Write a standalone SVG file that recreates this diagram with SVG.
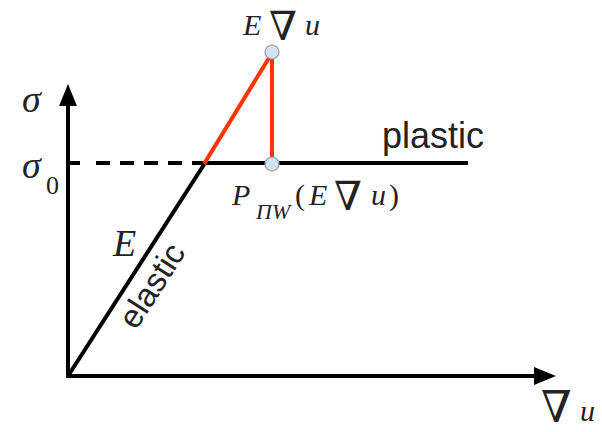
<svg xmlns="http://www.w3.org/2000/svg" width="602" height="432" viewBox="0 0 602 432">
<style>
.ax{stroke:#000;stroke-width:4;fill:none}
.red{stroke:#ff3300;stroke-width:4;fill:none}
.pt{fill:#cfe3f2;stroke:#999;stroke-width:1.2}
.m{font-family:"Liberation Serif",serif;fill:#222}
.n{font-family:"DejaVu Serif",serif;fill:#222}
.mi{font-family:"Liberation Serif",serif;font-style:italic;fill:#222}
.s{font-family:"Liberation Sans",Arial,sans-serif;fill:#222}
</style>
<g id="connectors">
<line class="ax" x1="68" y1="378" x2="68" y2="104"/>
<polygon points="68,84 59,106 77,106" fill="#000"/>
<line class="ax" x1="66" y1="376" x2="536" y2="376"/>
<polygon points="556,376 534,367 534,385" fill="#000"/>
<line class="ax" x1="68" y1="163" x2="80" y2="163"/>
<line class="ax" x1="96" y1="163" x2="205" y2="163" stroke-dasharray="14,10"/>
<line class="ax" x1="203" y1="163" x2="468" y2="163"/>
<line class="ax" x1="68" y1="376" x2="205" y2="163"/>
<line class="red" x1="204" y1="164" x2="272" y2="53"/>
<line class="red" x1="272" y1="53" x2="272" y2="163"/>
</g>
<g id="node-top"><circle class="pt" cx="272" cy="52" r="7"/></g>
<g id="node-proj"><circle class="pt" cx="272" cy="164" r="7"/></g>
<g id="labels">
<text class="mi" x="22" y="112" font-size="38">σ</text>
<text class="mi" x="22" y="178" font-size="38">σ</text>
<text class="m" x="46" y="194" font-size="26">0</text>
<text class="mi" x="243" y="35" font-size="30">E</text>
<text class="n" x="269" y="40" font-size="40">∇</text>
<text class="mi" x="305" y="35" font-size="30">u</text>
<text class="mi" x="232" y="205" font-size="30">P</text>
<text class="mi" x="256" y="219" font-size="22">ΠW</text>
<text class="m" x="295" y="205" font-size="30">(</text>
<text class="mi" x="309" y="205" font-size="30">E</text>
<text class="n" x="334" y="210" font-size="40">∇</text>
<text class="mi" x="371" y="205" font-size="30">u</text>
<text class="m" x="389" y="205" font-size="30">)</text>
<text class="mi" x="113" y="256" font-size="38">E</text>
<text class="s" font-size="33" transform="translate(136,331) rotate(-57.3)">elastic</text>
<text class="s" x="382" y="148" font-size="36">plastic</text>
<text class="n" x="541" y="422" font-size="44">∇</text>
<text class="mi" x="580" y="421" font-size="30">u</text>
</g>
</svg>
